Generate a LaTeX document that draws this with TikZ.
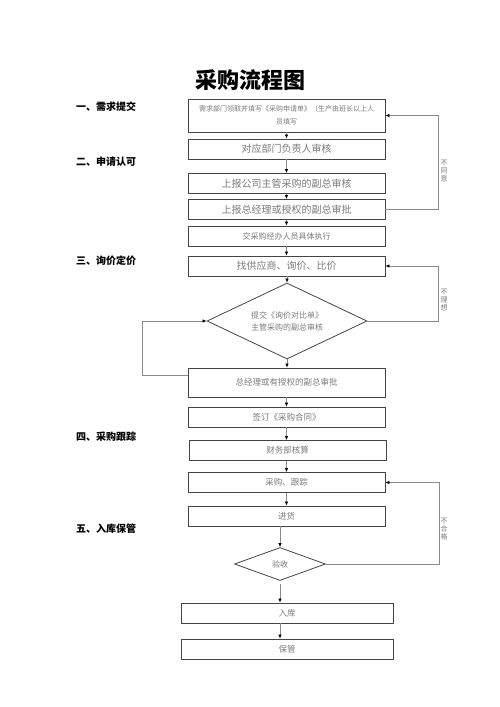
\documentclass[tikz,border=0pt]{standalone}
\usepackage{fontspec}
\newfontfamily\cjk{Noto Sans CJK SC}
\usetikzlibrary{arrows.meta,shapes.geometric,calc}

\begin{document}
\begin{tikzpicture}[x=1pt, y=-1pt,
    box/.style={draw=boxBorder, line width=0.8pt, minimum width=197pt, minimum height=20pt, inner sep=1pt, text=boxText, font=\cjk\fontsize{10}{12}\selectfont},
    smallbox/.style={box, font=\cjk\fontsize{8.5}{10}\selectfont},
    decision/.style={diamond, draw=boxBorder, line width=0.8pt, inner sep=0pt, aspect=2, text=boxText, align=center, font=\cjk\fontsize{8}{12}\selectfont},
    stage/.style={anchor=west, inner sep=0pt, font=\cjk\bfseries\fontsize{10}{12}\selectfont},
    flow/.style={draw=lineColor, line width=0.7pt, -{Latex[length=4pt, width=3.5pt, black]}},
    note/.style={inner sep=0pt, align=center, text=boxText, font=\cjk\fontsize{7}{8}\selectfont}]
    % Color Palette
    \definecolor{boxBorder}{HTML}{444444}
    \definecolor{boxText}{HTML}{7A7A7A}
    \definecolor{lineColor}{HTML}{8A8A8A}

    \useasboundingbox (0,0) rectangle (500,707);

    % --- Title ---
    \node[inner sep=0pt, font=\cjk\bfseries\fontsize{22}{24}\selectfont] (title) at (250,80) {采购流程图};

    % --- Stage labels (left) ---
    \node[stage] (s1) at (76,107) {一、需求提交};
    \node[stage] (s2) at (76,162) {二、申请认可};
    \node[stage] (s3) at (76,261) {三、询价定价};
    \node[stage] (s4) at (76,437) {四、采购跟踪};
    \node[stage] (s5) at (76,529) {五、入库保管};

    % --- Request and approval ---
    \node[box, minimum height=33pt, align=center, font=\cjk\fontsize{7}{13}\selectfont] (req) at (286.5,115.5) {需求部门领取并填写《采购申请单》（生产由班长以上人\\员填写};
    \node[box] (dept) at (286.5,149) {对应部门负责人审核};
    \node[box] (vp) at (286.5,183.5) {上报公司主管采购的副总审核};
    \node[box] (gm) at (286.5,209.5) {上报总经理或授权的副总审批};
    \node[box, font=\cjk\fontsize{8}{10}\selectfont] (exec) at (286.5,236) {交采购经办人员具体执行};

    % --- Inquiry and pricing ---
    \node[box] (quote) at (286.5,266) {找供应商、询价、比价};
    \node[decision, minimum width=160pt, minimum height=76pt] (cmp) at (287,321) {提交《询价对比单》\\主管采购的副总审核};
    \node[smallbox, minimum height=29pt] (gm2) at (286.5,382.5) {总经理或有授权的副总审批};
    \node[smallbox] (sign) at (286.5,417) {签订《采购合同》};

    % --- Tracking ---
    \node[smallbox] (fin) at (287.5,450.5) {财务部核算};
    \node[smallbox] (track) at (286.5,482.5) {采购、跟踪};
    \node[smallbox] (goods) at (286.5,516) {进货};

    % --- Storage ---
    \node[decision, minimum width=91pt, minimum height=33pt] (check) at (280,564) {验收};
    \node[smallbox, minimum width=212pt] (store) at (287,613) {入库};
    \node[smallbox, minimum width=212pt] (keep) at (287,649) {保管};

    % Main flow
    \draw[flow] (req) -- (dept);
    \draw[flow] (dept) -- (vp);
    \draw[flow] (vp) -- (gm);
    \draw[flow] (gm) -- (exec);
    \draw[flow] (exec) -- (quote);
    \draw[flow] (quote.south -| cmp.north) -- (cmp.north);
    \draw[flow] (cmp.south) -- (gm2.north -| cmp.south);
    \draw[flow] (gm2) -- (sign);
    \draw[flow] (sign.south) -- (fin.north -| sign.south);
    \draw[flow] (fin.south -| track.north) -- (track.north);
    \draw[flow] (track) -- (goods);
    \draw[flow] (goods.south -| check.north) -- (check.north);
    \draw[flow] ([yshift=-3pt]check.south) -- (store.north -| check.south);
    \draw[flow] (store.south -| check.south) -- (keep.north -| check.south);

    % Feedback loops
    \draw[flow] (gm.east) -- ++(53,0) |- (req.east);
    \node[note] (n1) at (444,171) {不\\同\\意};
    \draw[flow] (cmp.east) -- ++(71,0) |- (quote.east);
    \node[note] (n2) at (444,300) {不\\理\\想};
    \draw[flow] (check.east) -- ++(113,0) |- (track.east);
    \node[note] (n3) at (444,529) {不\\合\\格};
    \draw[flow] ([yshift=7pt]gm2.west) -- ++(-45,0) |- (cmp.west);

\end{tikzpicture}
\end{document}
